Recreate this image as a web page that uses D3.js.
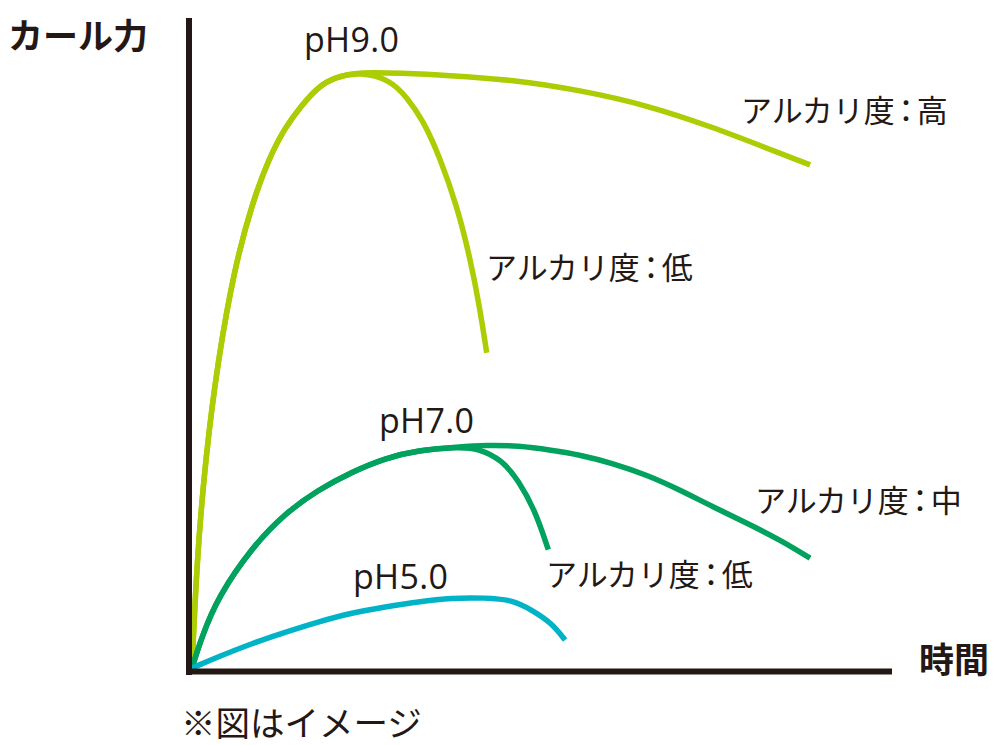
<!DOCTYPE html>
<html>
<head>
<meta charset="utf-8">
<script src="https://cdn.jsdelivr.net/npm/d3@7"></script>
<style>
  body { margin: 0; background: #fff; }
  svg { display: block; }
  .colon { font-feature-settings: "palt" 1; }
</style>
</head>
<body>
<div id="chart"></div>
<script>
// canvas
const width = 1000,
    height = 745

// data: [time, force], image only (no real units)
const ph9Rise = [[0, 0], [0.7, 16.6], [1.9, 32], [3.7, 47.4], [6.1, 61.7], [8.6, 71.5],
    [10.9, 78.2], [13.3, 83.2], [15.7, 86.6], [18, 89.4], [20.4, 90.9], [24, 91.7]]
const ph9High = [[29.7, 91.5], [36.4, 91.2], [45.9, 90.5], [55.4, 88.9], [65, 86.6],
    [74.4, 83.2], [81.6, 80.2], [88.3, 77.4]]
const ph9Low = [[28.3, 90.5], [30.7, 87.8], [33, 84.3], [35.4, 78.6], [37.9, 70.9],
    [39.7, 63.2], [41.1, 55.5], [42.1, 48.5]]

const ph7Rise = [[0, 0], [1.4, 4.8], [3.7, 10.9], [8.6, 18.6], [13.3, 23.8], [18, 27.4],
    [22.9, 30.2], [27.6, 32.3], [32.3, 33.5], [38, 34]]
const ph7High = [[41.9, 34.3], [46.6, 34.2], [51.4, 33.5], [55.4, 32.8], [60.1, 31.5],
    [65, 29.7], [69.7, 27.4], [74.4, 24.8], [79.3, 22.3], [84, 19.7], [88.3, 16.9]]
const ph7Low = [[40.9, 33.8], [44.3, 32], [46.6, 28.9], [49, 24.3], [50.9, 18.2]]

const ph5 = [[0, 0], [3.7, 1.7], [8.6, 3.8], [13.3, 5.5], [18, 7.1], [22.9, 8.5], [27.6, 9.4],
    [32.3, 10.2], [37.1, 10.8], [41.9, 10.8], [45.7, 10.5], [48.6, 8.9], [51.4, 6.9], [53.3, 4.3]]

const seriesNames = ['pH9.0', 'pH7.0', 'pH5.0']
const colors = ['#abcd03', '#00a25e', '#00b3c7']
const branchLabels = ['アルカリ度：高', 'アルカリ度：低', 'アルカリ度：中', 'アルカリ度：低']

const svg = d3.select('#chart')
    .append('svg')
    .attr('width', width)
    .attr('height', height)

const x = d3.scaleLinear().domain([0, 100]).range([192, 892])
const y = d3.scaleLinear().domain([0, 100]).range([668, 18])

const line = d3.line()
    .x(d => x(d[0]))
    .y(d => y(d[1]))
    .curve(d3.curveBasis)

const paths = [
    { pts: ph9Rise.concat(ph9High), c: 0 },
    { pts: ph9Rise.concat(ph9Low), c: 0 },
    { pts: ph7Rise.concat(ph7High), c: 1 },
    { pts: ph7Rise.concat(ph7Low), c: 1 },
    { pts: ph5, c: 2 }
]

svg.selectAll('path.curve')
    .data(paths)
    .enter()
    .append('path')
    .attr('class', 'curve')
    .attr('d', d => line(d.pts))
    .attr('fill', 'none')
    .attr('stroke', d => colors[d.c])
    .attr('stroke-width', 5.5)

// axes (no ticks, just the two lines)
svg.append('line')
    .attr('x1', 189).attr('x2', 189)
    .attr('y1', y(100)).attr('y2', 675)
    .attr('stroke', '#231815').attr('stroke-width', 6)
svg.append('line')
    .attr('x1', 186).attr('x2', x(100))
    .attr('y1', 671.5).attr('y2', 671.5)
    .attr('stroke', '#231815').attr('stroke-width', 6)

const jp = '"Noto Sans CJK JP", sans-serif'

// axis titles
svg.append('text').text('カール力')
    .attr('x', 8).attr('y', 33)
    .attr('dominant-baseline', 'central')
    .attr('font-family', jp).attr('font-weight', 'bold')
    .attr('font-size', 35).attr('fill', '#231815')
svg.append('text').text('時間')
    .attr('x', 919).attr('y', 657)
    .attr('dominant-baseline', 'central')
    .attr('font-family', jp).attr('font-weight', 'bold')
    .attr('font-size', 35).attr('fill', '#231815')
svg.append('text').text('※図はイメージ')
    .attr('x', 181).attr('y', 721)
    .attr('dominant-baseline', 'central')
    .attr('font-family', jp)
    .attr('font-size', 34.5).attr('fill', '#231815')

// series labels
const phPos = [[304, 52], [379, 433], [353, 589]]
svg.selectAll('text.ph')
    .data(seriesNames)
    .enter()
    .append('text')
    .attr('class', 'ph')
    .text(d => d)
    .attr('x', (d, i) => phPos[i][0])
    .attr('y', (d, i) => phPos[i][1])
    .attr('font-family', '"Open Sans", sans-serif')
    .attr('font-size', 34)
    .attr('letter-spacing', 0.3)
    .attr('fill', '#231815')

// branch labels, colon set proportional like the original
const brPos = [[741, 108], [486, 265], [755, 498], [546, 572]]
const br = svg.selectAll('text.br')
    .data(branchLabels)
    .enter()
    .append('text')
    .attr('class', 'br')
    .attr('x', (d, i) => brPos[i][0])
    .attr('y', (d, i) => brPos[i][1])
    .attr('dominant-baseline', 'central')
    .attr('font-family', jp)
    .attr('font-size', 31)
    .attr('fill', '#231815')
br.append('tspan').text(d => d.split('：')[0])
br.append('tspan').attr('class', 'colon').attr('dx', 3.5).text('：')
br.append('tspan').attr('dx', 3).text(d => d.split('：')[1])
</script>
</body>
</html>
